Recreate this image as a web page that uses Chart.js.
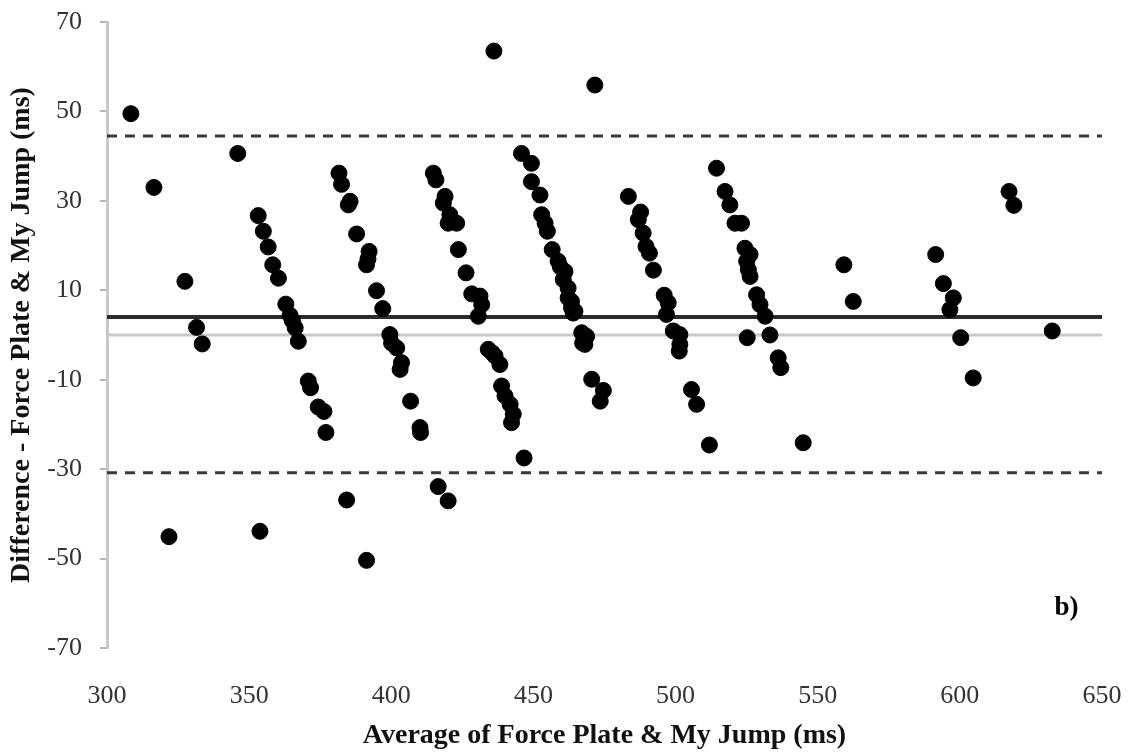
<!DOCTYPE html>
<html>
<head>
<meta charset="utf-8">
<script src="https://cdn.jsdelivr.net/npm/chart.js@4.4.0/dist/chart.umd.min.js"></script>
<style>
  html, body { margin: 0; padding: 0; background: #fff; overflow: hidden; }
  canvas { display: block; }
</style>
</head>
<body>
<canvas id="myChart" width="1131" height="754"></canvas>
<script>
  // average of the two methods (ms) and their difference (ms)
  const avgMs = [
    308.4, 316.5, 327.4, 331.5, 333.5, 321.8, 346.0, 353.8,
    353.2, 355.0, 356.7, 358.3, 360.3, 362.9, 364.4, 365.2, 366.2, 367.3, 370.8, 371.6, 374.3, 376.3, 377.0,
    381.6, 382.5, 385.5, 384.9, 387.8, 392.2, 391.8, 391.3, 394.8, 397.0, 399.5, 400.1, 401.9, 403.6, 403.1, 406.8, 410.1, 410.3, 384.3, 391.3,
    414.8, 415.7, 418.9, 418.3, 420.6, 423.0, 420.0, 423.6, 426.3, 428.3, 431.2, 431.8, 430.6, 434.1, 435.5, 436.5, 438.2, 438.8, 440.0, 441.8, 442.9, 442.3, 446.7, 416.5, 420.0, 436.1,
    445.8, 449.3, 449.3, 452.3, 452.9, 454.1, 454.9, 456.6, 458.7, 459.5, 461.1, 460.5, 462.2, 462.2, 463.4, 463.4, 464.6, 464.0, 467.0, 468.7, 467.3, 468.1, 470.5, 474.6, 473.5, 471.6,
    483.4, 487.7, 486.9, 488.6, 489.6, 490.8, 492.2, 496.0, 497.4, 496.8, 499.2, 501.5, 501.5, 501.3, 505.6, 507.4, 511.9,
    514.4, 517.4, 519.1, 520.9, 523.2, 524.4, 526.2, 525.0, 525.6, 526.2, 528.5, 529.7, 531.5, 525.2, 533.2, 536.1, 537.0, 544.9,
    559.2, 562.5, 591.5, 594.2, 597.7, 596.5, 600.3, 604.7, 617.3, 619.0, 632.5
  ];
  const diffMs = [
    49.5, 33.0, 12.0, 1.7, -2.0, -45.1, 40.6, -43.9,
    26.7, 23.2, 19.7, 15.7, 12.7, 6.9, 4.4, 3.2, 1.6, -1.4, -10.3, -11.8, -16.1, -17.1, -21.8,
    36.2, 33.7, 29.9, 29.1, 22.6, 18.7, 17.0, 15.7, 9.9, 5.9, 0.1, -1.8, -2.9, -6.2, -7.7, -14.8, -20.7, -21.8, -36.9, -50.4,
    36.2, 34.7, 31.0, 29.5, 26.9, 25.0, 25.0, 19.1, 13.9, 9.2, 8.7, 6.8, 4.2, -3.2, -4.0, -4.7, -6.6, -11.4, -13.6, -15.5, -17.7, -19.6, -27.5, -33.9, -37.1, 63.5,
    40.6, 38.4, 34.3, 31.3, 26.9, 25.0, 23.2, 19.1, 16.5, 15.2, 14.2, 12.4, 10.5, 8.3, 7.5, 6.1, 5.3, 4.9, 0.5, -0.3, -1.8, -2.1, -9.9, -12.4, -14.8, 55.9,
    31.0, 27.5, 25.8, 22.8, 19.8, 18.3, 14.5, 8.9, 7.2, 4.6, 0.9, 0.1, -2.1, -3.6, -12.2, -15.5, -24.6,
    37.3, 32.1, 29.1, 25.0, 25.0, 19.4, 18.0, 16.5, 14.6, 13.1, 9.0, 6.8, 4.2, -0.6, 0.0, -5.1, -7.3, -24.1,
    15.7, 7.5, 18.0, 11.5, 8.3, 5.7, -0.6, -9.6, 32.1, 29.0, 0.9
  ];

  const meanDiff = 4.0;
  const upperLimit = 44.5;
  const lowerLimit = -30.8;
  const zeroLine = 0;

  const xRange = [300, 650];
  const yRange = [-70, 70];

  const points = avgMs.map((x, i) => ({ x: x, y: diffMs[i] }));
  const hLine = (y) => xRange.map(x => ({ x: x, y: y }));

  // "b)" panel mark
  const panelLabel = {
    id: 'panelLabel',
    afterDraw(chart) {
      const c = chart.ctx;
      const xs = chart.scales.x, ys = chart.scales.y;
      c.save();
      c.font = 'bold 27px "Liberation Serif"';
      c.fillStyle = '#000';
      c.textAlign = 'center';
      c.textBaseline = 'middle';
      c.fillText('b)', xs.getPixelForValue(637.5), ys.getPixelForValue(-61));
      c.restore();
    }
  };

  const ctx = document.getElementById('myChart');
  new Chart(ctx, {
    type: 'scatter',
    data: {
      datasets: [{
        data: points,
        backgroundColor: '#000',
        borderColor: '#000',
        pointRadius: 8,
        order: 0
      }, {
        type: 'line',
        data: hLine(upperLimit),
        borderColor: '#3a3a3a',
        borderWidth: 3,
        borderDash: [10, 8],
        pointRadius: 0,
        order: 1
      }, {
        type: 'line',
        data: hLine(lowerLimit),
        borderColor: '#3a3a3a',
        borderWidth: 3,
        borderDash: [10, 8],
        pointRadius: 0,
        order: 1
      }, {
        type: 'line',
        data: hLine(meanDiff),
        borderColor: '#2b2b2b',
        borderWidth: 4,
        pointRadius: 0,
        order: 1
      }, {
        type: 'line',
        data: hLine(zeroLine),
        borderColor: '#c8c8c8',
        borderWidth: 3,
        pointRadius: 0,
        order: 2
      }]
    },
    options: {
      responsive: false,
      animation: false,
      devicePixelRatio: 1,
      layout: { padding: { top: 22, right: 29, bottom: 0, left: 0 } },
      plugins: { legend: { display: false }, tooltip: { enabled: false } },
      scales: {
        x: {
          type: 'linear',
          min: xRange[0],
          max: xRange[1],
          afterFit: (axis) => {
            axis.height = 106;
            axis.paddingLeft = 0;
            axis.paddingRight = 0;
          },
          grid: { display: false },
          border: { display: false },
          ticks: {
            stepSize: 50,
            padding: 25,
            color: '#333',
            font: { family: 'Liberation Serif', size: 26 }
          },
          title: {
            display: true,
            text: 'Average of Force Plate & My Jump (ms)',
            color: '#111',
            padding: { top: 0, bottom: 1 },
            font: { family: 'Liberation Serif', size: 28, weight: 'bold' }
          }
        },
        y: {
          min: yRange[0],
          max: yRange[1],
          afterFit: (axis) => {
            axis.width = 107;
            axis.paddingTop = 0;
            axis.paddingBottom = 0;
          },
          grid: {
            drawOnChartArea: false,
            drawTicks: true,
            tickLength: 7,
            color: '#b5b5b5',
            lineWidth: 2
          },
          border: { display: true, color: '#c8c8c8', width: 3 },
          ticks: {
            stepSize: 20,
            padding: 18,
            color: '#333',
            font: { family: 'Liberation Serif', size: 26 }
          },
          title: {
            display: true,
            text: 'Difference - Force Plate & My Jump (ms)',
            color: '#111',
            padding: { top: 5, bottom: 0 },
            font: { family: 'Liberation Serif', size: 28, weight: 'bold' }
          }
        }
      }
    },
    plugins: [panelLabel]
  });
</script>
</body>
</html>
